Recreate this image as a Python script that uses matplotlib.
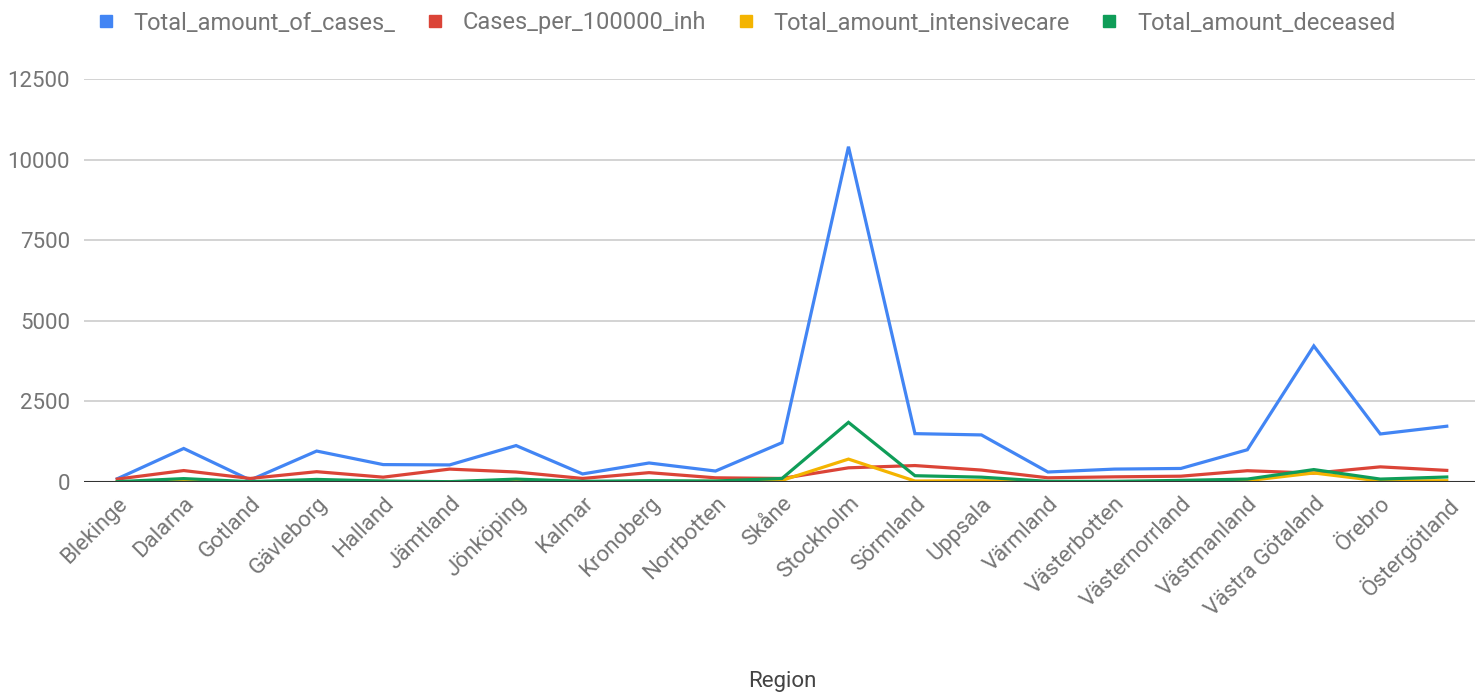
import matplotlib.pyplot as plt
from matplotlib.lines import Line2D

plt.rcParams['font.family'] = ['Roboto', 'DejaVu Sans']

# Datos por región
regions = ["Blekinge", "Dalarna", "Gotland", "Gävleborg", "Halland", "Jämtland",
           "Jönköping", "Kalmar", "Kronoberg", "Norrbotten", "Skåne", "Stockholm",
           "Sörmland", "Uppsala", "Värmland", "Västerbotten", "Västernorrland",
           "Västmanland", "Västra Götaland", "Örebro", "Östergötland"]

total_cases = [100, 1040, 60, 960, 540, 530, 1130, 250, 590, 340, 1220, 10400,
               1500, 1460, 310, 400, 420, 1000, 4220, 1490, 1730]
cases_per_100k = [90, 355, 110, 320, 150, 400, 310, 110, 290, 130, 110, 440,
                  510, 370, 130, 160, 180, 350, 275, 470, 360]
intensive_care = [5, 30, 5, 20, 15, 5, 30, 10, 15, 20, 50, 710,
                  30, 40, 10, 10, 15, 40, 280, 30, 40]
deceased = [10, 105, 10, 80, 30, 10, 90, 20, 40, 30, 110, 1850,
            195, 150, 20, 20, 50, 90, 385, 90, 155]

series_names = ["Total_amount_of_cases_", "Cases_per_100000_inh",
                "Total_amount_intensivecare", "Total_amount_deceased"]
series = [total_cases, cases_per_100k, intensive_care, deceased]
colors = ["#4285F4", "#DB4437", "#F4B400", "#0F9D58"]

W, H = 1475, 695
fig = plt.figure(figsize=(W / 100, H / 100), dpi=100)
ax = fig.add_axes([84 / W, (H - 482) / H, (1480 - 84) / W, (482 - 79) / H])

x = list(range(len(regions)))
for vals, color in zip(series, colors):
    ax.plot(x, vals, color=color, linewidth=2.3, solid_joinstyle="miter", zorder=3)

ax.set_xlim(-0.5, len(regions) - 0.5)
ax.set_ylim(0, 12500)
ax.set_yticks([0, 2500, 5000, 7500, 10000, 12500])
ax.grid(axis="y", color="#cccccc", linewidth=1.2)
ax.axhline(0, color="#333333", linewidth=1.5, zorder=4)
for s in ax.spines.values():
    s.set_visible(False)
ax.tick_params(axis="both", length=0, labelsize=16, labelcolor="#757575")
ax.tick_params(axis="y", pad=10)
ax.set_xticks(x)
ax.set_xticklabels(regions, rotation=45, ha="right", rotation_mode="anchor")
ax.tick_params(axis="x", pad=8)

fig.text(782 / W, 1 - 682 / H, "Region", ha="center", va="center",
         fontsize=16, color="#444444")

handles = [Line2D([], [], marker="s", linestyle="none", markersize=8.5,
                  markerfacecolor=c, markeredgecolor=c) for c in colors]
fig.legend(handles, series_names, loc="center left", bbox_to_anchor=(75 / W, 1 - 23 / H),
           ncol=4, frameon=False, fontsize=17, labelcolor="#757575",
           handletextpad=0.78, columnspacing=1.27, handlelength=0.8)

fig.savefig("out.png", dpi=100)
